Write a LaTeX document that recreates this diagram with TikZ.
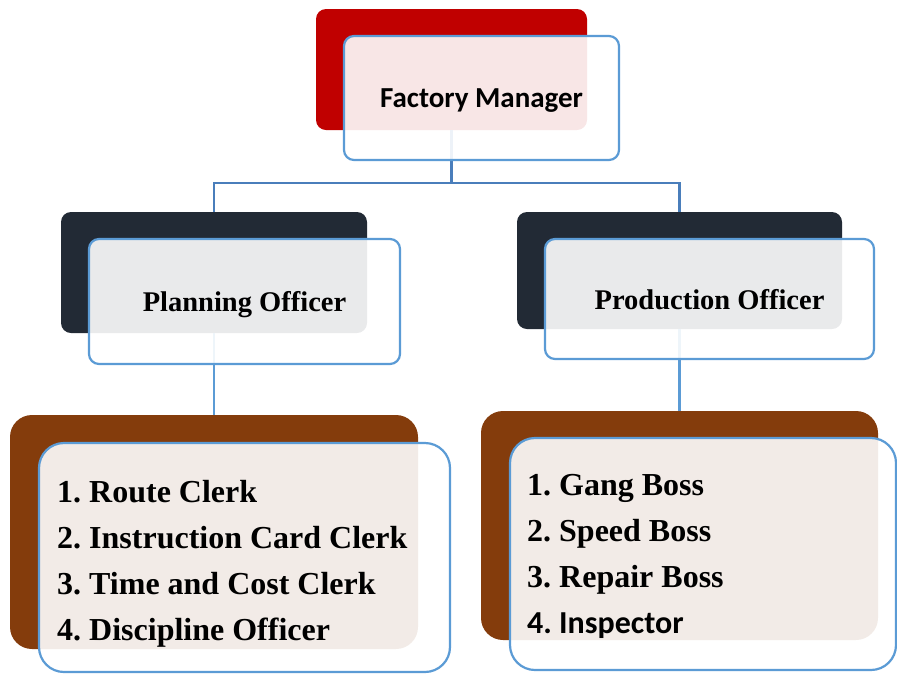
\documentclass[tikz,border=0pt]{standalone}
\usepackage{fontspec}
\setmainfont{Liberation Serif}
\newfontfamily\calibri{Carlito}
\usepackage{tikz}
\usepackage{xcolor}

\definecolor{fmred}{HTML}{C00000}
\definecolor{officerdark}{HTML}{222A35}
\definecolor{staffbrown}{HTML}{843C0C}
\definecolor{boxblue}{HTML}{5B9BD5}
\definecolor{linkblue}{HTML}{4A7EBB}

\begin{document}
\frenchspacing
\begin{tikzpicture}[x=1pt,y=-1pt,
		backbox/.style={rectangle, rounded corners=10pt, inner sep=0pt},
		frontbox/.style={rectangle, rounded corners=10pt, draw=boxblue, line width=2.2pt,
			fill=white, fill opacity=0.9, text opacity=1, inner sep=0pt},
		titletext/.style={font=\fontsize{28.5}{34}\selectfont\bfseries},
		listtext/.style={font=\fontsize{32}{46}\selectfont\bfseries, align=left, inner sep=0pt, anchor=west},
		link/.style={linkblue, line width=2.4pt}]
			\useasboundingbox (0,0) rectangle (897,673);

			% back boxes
			\node[backbox, fill=fmred, minimum width=271pt, minimum height=121pt] (fmback) at (451.5,69.5) {};
			\node[backbox, fill=officerdark, minimum width=306pt, minimum height=121pt] (plback) at (214,272.5) {};
			\node[backbox, fill=officerdark, minimum width=325pt, minimum height=117pt] (prback) at (679.5,270.5) {};
			\node[backbox, rounded corners=22pt, fill=staffbrown, minimum width=408pt, minimum height=234pt] (plstaffback) at (214,532) {};
			\node[backbox, rounded corners=22pt, fill=staffbrown, minimum width=397pt, minimum height=229pt] (prstaffback) at (679.5,525.5) {};

			% connectors
			\coordinate (split) at (451.5,183);
			\draw[link] (fmback.south) -- (split) -| (plback.north);
			\draw[link] (split) -| (prback.north);
			\draw[link, boxblue] (plback.south) -- (plstaffback.north);
			\draw[link, boxblue] (prback.south) -- (prstaffback.north);

			% front boxes
			\node[frontbox, minimum width=275pt, minimum height=124pt, font=\calibri\fontsize{29}{34}\selectfont\bfseries] (fm) at (481.5,98) {\raisebox{-3pt}[\height][\depth]{Factory Manager}};
			\node[frontbox, titletext, minimum width=311pt, minimum height=125pt] (pl) at (244.5,301.5) {\raisebox{-3pt}[\height][\depth]{Planning Officer}};
			\node[frontbox, titletext, minimum width=329pt, minimum height=120pt] (pr) at (709.5,299) {\raisebox{-1pt}[\height][\depth]{Production Officer}};
			\node[frontbox, rounded corners=25pt, minimum width=411pt, minimum height=229pt] (plstaff) at (244.5,557.5) {};
			\node[frontbox, rounded corners=25pt, minimum width=386pt, minimum height=232pt] (prstaff) at (703,554) {};

			% staff lists
			\node[listtext] (plitems) at (57,563.5) {1. Route Clerk\\2. Instruction Card Clerk\\3. Time and Cost Clerk\\4. Discipline Officer};
			\node[listtext] (pritems) at (527,556) {1. Gang Boss\\2. Speed Boss\\3. Repair Boss\\{\calibri 4. Inspector}};
		\end{tikzpicture}
\end{document}
